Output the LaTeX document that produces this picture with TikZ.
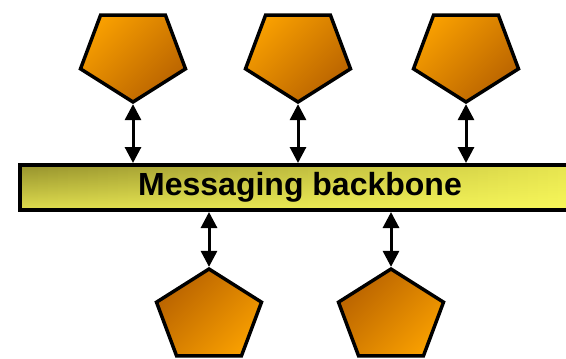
\documentclass[tikz,border=0pt]{standalone}
\usepackage{fontspec}
\setmainfont{Liberation Sans}
\usetikzlibrary{positioning, arrows.meta, shapes, backgrounds}
\definecolor{pentlight}{RGB}{247,158,0}
\definecolor{pentdark}{RGB}{184,98,0}
\definecolor{bustl}{RGB}{152,148,46}
\definecolor{bustr}{RGB}{232,230,80}
\definecolor{busbl}{RGB}{222,220,78}
\definecolor{busbr}{RGB}{247,247,90}

\begin{document}
\begin{tikzpicture}[x=0.75pt, y=0.75pt,
    client/.style={regular polygon, regular polygon sides=5, draw, line width=2.6pt,
        minimum size=72pt, inner sep=0pt, xscale=1.15},
    toppent/.style={client, shape border rotate=180, top color=pentlight, bottom color=pentdark, shading angle=45},
    botpent/.style={client, top color=pentdark, bottom color=pentlight, shading angle=45},
    bus/.style={draw, line width=3pt, minimum width=420pt, minimum height=33.75pt,
        font=\fontsize{24}{28}\selectfont\bfseries},
    link/.style={{Triangle[length=12pt,width=12pt]}-{Triangle[length=12pt,width=12pt]}, line width=2.25pt}]

    \useasboundingbox (0,0) rectangle (566,358);

    \node[bus] (bus) at (300,170.5) {Messaging backbone};
    \begin{scope}[on background layer]
        \foreach \i in {0,...,55} {
            \pgfmathtruncatemacro\p{100*\i/55}
            \shade[top color=bustr!\p!bustl, bottom color=busbr!\p!busbl]
                ([xshift=\i*10*0.75pt, yshift=-2pt]bus.north west)
                rectangle ([xshift=(\i*10+10.6)*0.75pt, yshift=2pt]bus.south west);
        }
    \end{scope}

    \node[toppent] (t1) at (133,304) {};
    \node[toppent] (t2) at (298,304) {};
    \node[toppent] (t3) at (466,304) {};

    \node[botpent] (b1) at (209,41) {};
    \node[botpent] (b2) at (391,41) {};

    \draw[link] (t1.corner 1) -- (t1.corner 1 |- bus.north);
    \draw[link] (t2.corner 1) -- (t2.corner 1 |- bus.north);
    \draw[link] (t3.corner 1) -- (t3.corner 1 |- bus.north);
    \draw[link] (b1.corner 1 |- bus.south) -- (b1.corner 1);
    \draw[link] (b2.corner 1 |- bus.south) -- (b2.corner 1);
\end{tikzpicture}
\end{document}
